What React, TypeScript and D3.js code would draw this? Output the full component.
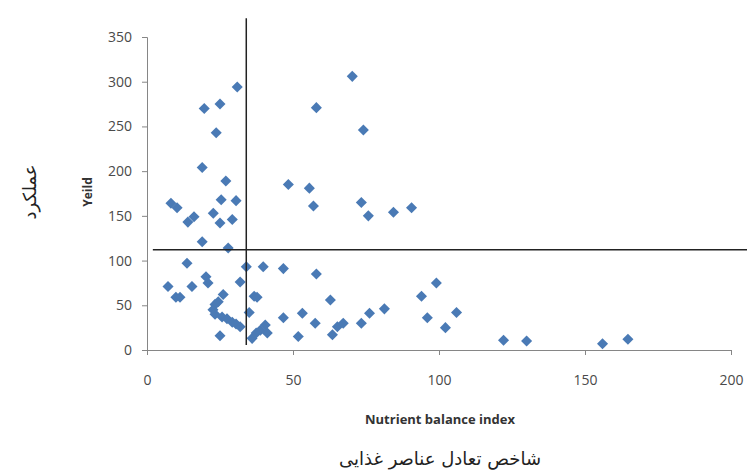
import React, { useEffect, useRef } from 'react'
import * as d3 from 'd3'

// nutrient balance index (x) and yield (y)
const nbi = [
	19.6, 25, 30.9, 23.7, 18.9, 27, 58, 70.3, 74.1, 48.4, 55.6, 57,
	8.2, 10.3, 14, 16.1, 18.9, 22.7, 25, 25.4, 29.2, 30.5, 27.8,
	13.7, 7.2, 9.9, 11.3, 15.4, 20.2, 20.9, 26.1, 23.3, 24.4, 22.6, 23.3, 25.7, 27.4, 29.2, 30.5, 31.9, 25,
	31.9, 34, 35, 36.7, 37.7, 39.8, 36, 37.4, 38.8, 40.5, 41.2,
	46.7, 46.7, 51.8, 53.2, 58, 57.6, 62.8, 63.5, 65.2, 67.2,
	73.4, 75.8, 84.4, 90.6, 73.4, 76.2, 81.3, 94, 99.1, 96, 102.2, 106,
	122.1, 130, 156, 164.7,
]
const yieldValues = [
	270, 275, 294, 243, 204, 189, 271, 306, 246, 185, 181, 161,
	164, 159, 143, 149, 121, 153, 142, 168, 146, 167, 114,
	97, 71, 59, 59, 71, 82, 75, 62, 51, 54, 45, 40, 37, 35, 31, 29, 26, 16,
	76, 93, 42, 60, 59, 93, 13, 19, 22, 28, 19,
	91, 36, 15, 41, 85, 30, 56, 17, 26, 30,
	165, 150, 154, 159, 30, 41, 46, 60, 75, 36, 25, 42,
	11, 10, 7, 12,
]

const xTicks = [0, 50, 100, 150, 200]
const yTicks = [0, 50, 100, 150, 200, 250, 300, 350]

// the two threshold lines drawn across the plot
const xThreshold = 34
const yThreshold = 112
const vLineRange = [5.6, 371]
const hLineRange = [2, 206]

const W = 747
const H = 475

export default function App() {
	const ref = useRef<SVGSVGElement>(null)

	useEffect(() => {
		const svg = d3.select(ref.current)
		svg.selectAll('*').remove()

		const x = d3.scaleLinear().domain([0, 200]).range([147, 731])
		const y = d3.scaleLinear().domain([0, 350]).range([350, 37])
		const axisColor = '#868686'
		const labelFont = '"Open Sans", "Noto Sans", sans-serif'

		// y axis
		const yAxis = svg
			.append('g')
			.attr('transform', `translate(${x(0)},0)`)
			.call(d3.axisLeft(y).tickValues(yTicks).tickSize(5).tickPadding(10))
		yAxis.select('.domain').attr('stroke', axisColor)
		yAxis.selectAll('line').attr('stroke', axisColor)
		yAxis
			.selectAll('text')
			.attr('fill', '#4a4a4a')
			.style('font-size', '14px')
			.style('font-family', labelFont)

		// x axis
		const xAxis = svg
			.append('g')
			.attr('transform', `translate(0,${y(0)})`)
			.call(d3.axisBottom(x).tickValues(xTicks).tickSize(5).tickPadding(20))
		xAxis.select('.domain').attr('stroke', axisColor)
		xAxis.selectAll('line').attr('stroke', axisColor)
		xAxis
			.selectAll('text')
			.attr('fill', '#4a4a4a')
			.style('font-size', '14px')
			.style('font-family', labelFont)

		// points
		const diamond = d3.symbol().type(d3.symbolDiamond2).size(78)
		svg
			.append('g')
			.selectAll('path')
			.data(nbi.map((v, i) => [v, yieldValues[i]]))
			.enter()
			.append('path')
			.attr('d', diamond)
			.attr('transform', (d) => `translate(${x(d[0])},${y(d[1])})`)
			.attr('fill', '#4a7ab5')

		// threshold lines
		svg
			.append('line')
			.attr('x1', x(xThreshold))
			.attr('x2', x(xThreshold))
			.attr('y1', y(vLineRange[0]))
			.attr('y2', y(vLineRange[1]))
			.attr('stroke', '#222')
			.attr('stroke-width', 1.5)
		svg
			.append('line')
			.attr('x1', x(hLineRange[0]))
			.attr('x2', x(hLineRange[1]))
			.attr('y1', y(yThreshold))
			.attr('y2', y(yThreshold))
			.attr('stroke', '#222')
			.attr('stroke-width', 1.5)

		// axis titles
		svg
			.append('text')
			.attr('x', 440)
			.attr('y', 424)
			.attr('text-anchor', 'middle')
			.attr('font-weight', 'bold')
			.attr('font-size', 13)
			.attr('font-family', labelFont)
			.attr('fill', '#333')
			.text('Nutrient balance index')

		svg
			.append('text')
			.attr('x', 440)
			.attr('y', 465)
			.attr('text-anchor', 'middle')
			.attr('font-size', 18)
			.attr('font-family', '"DejaVu Sans", sans-serif')
			.attr('fill', '#222')
			.text('شاخص تعادل عناصر غذایی')

		svg
			.append('text')
			.attr('transform', 'translate(92,192) rotate(-90)')
			.attr('text-anchor', 'middle')
			.attr('font-weight', 'bold')
			.attr('font-size', 12)
			.attr('font-family', labelFont)
			.attr('fill', '#333')
			.text('Yeild')

		svg
			.append('text')
			.attr('transform', 'translate(36,192) rotate(-90)')
			.attr('text-anchor', 'middle')
			.attr('font-size', 18)
			.attr('font-family', '"DejaVu Sans", sans-serif')
			.attr('fill', '#222')
			.text('عملکرد')
	}, [])

	return (
		<svg
			ref={ref}
			width={W}
			height={H}
			style={{ position: 'absolute', left: 0, top: 0, background: '#fff' }}
		/>
	)
}
